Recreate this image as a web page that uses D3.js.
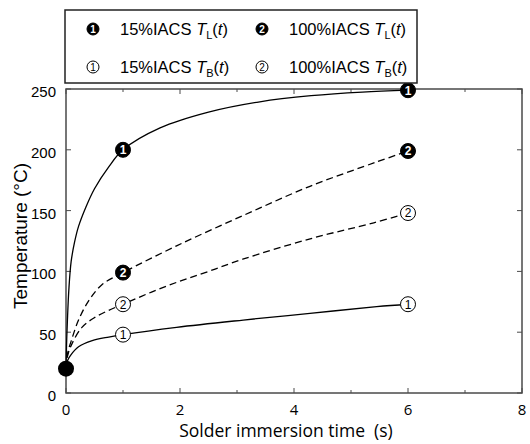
<!DOCTYPE html>
<html><head><meta charset="utf-8">
<script src="https://cdn.jsdelivr.net/npm/d3@7"></script>
<style>
html,body{margin:0;padding:0;background:#fff;}
svg{display:block;}
text{white-space:pre;}
</style></head>
<body>
<svg id="chart" width="530" height="444"></svg>
<script>
// ---- data ----
const xTicks = [0, 2, 4, 6, 8];
const xMinorTicks = [1, 3, 5, 7];
const yTicks = [0, 50, 100, 150, 200, 250];

// curve samples [time (s), temperature (°C)]
const tL15 = [[0,20],[0.01,40],[0.025,60],[0.05,85],[0.09,108],[0.15,124],[0.22,137],[0.35,153],[0.5,168],[0.75,186],[1,200],[1.65,218],[2.5,231],[3.4,239.5],[4.3,244.5],[5.2,247.5],[6,249]];
const tL100 = [[0,20],[0.03,33],[0.1,44],[0.22,60],[0.4,76],[0.63,89],[1,99],[1.94,121],[3.11,146],[4.28,170],[5.45,190],[6,199]];
const tB100 = [[0,20],[0.03,31],[0.1,40],[0.28,54],[0.5,62],[0.75,68],[1,73],[1.5,83],[2,92],[2.5,100],[3.1,110],[4.3,127],[5.4,140],[6,148]];
const tB15 = [[0,20],[0.03,27],[0.08,31],[0.22,38],[0.46,43],[0.75,46],[1,48],[1.94,54],[3.11,60],[4.28,65.5],[5.45,71],[6,73]];

// marker points
const markTL15 = [[1,200],[6,249]];
const markTL100 = [[1,99],[6,199]];
const markTB100 = [[1,73],[6,148]];
const markTB15 = [[1,48],[6,73]];
const startPoint = [[0,20]];

const legendItems = [
  {label:"15%IACS", sym:"T", sub:"L", num:"1", filled:true},
  {label:"100%IACS", sym:"T", sub:"L", num:"2", filled:true},
  {label:"15%IACS", sym:"T", sub:"B", num:"1", filled:false},
  {label:"100%IACS", sym:"T", sub:"B", num:"2", filled:false}
];

// ---- drawing ----
const svg = d3.select("#chart");
const x = d3.scaleLinear().domain([0, 8]).range([66, 522]);
const y = d3.scaleLinear().domain([0, 250]).range([393, 89]);
const frameColor = "#4a4a4a";

const plot = svg.append("g");

// frame
plot.append("rect").attr("x", x(0)).attr("y", y(250))
  .attr("width", x(8) - x(0)).attr("height", y(0) - y(250))
  .attr("fill", "none").attr("stroke", frameColor).attr("stroke-width", 1.5);

// ticks (inward)
yTicks.forEach(v => {
  plot.append("line").attr("x1", x(0)).attr("x2", x(0) + 5).attr("y1", y(v)).attr("y2", y(v))
    .attr("stroke", frameColor).attr("stroke-width", 1);
  plot.append("line").attr("x1", x(8)).attr("x2", x(8) - 5).attr("y1", y(v)).attr("y2", y(v))
    .attr("stroke", frameColor).attr("stroke-width", 1);
});
xTicks.concat(xMinorTicks).forEach(v => {
  const len = xTicks.includes(v) ? 5 : 3;
  plot.append("line").attr("x1", x(v)).attr("x2", x(v)).attr("y1", y(0)).attr("y2", y(0) - len)
    .attr("stroke", frameColor).attr("stroke-width", 1);
  plot.append("line").attr("x1", x(v)).attr("x2", x(v)).attr("y1", y(250)).attr("y2", y(250) + len)
    .attr("stroke", frameColor).attr("stroke-width", 1);
});

// tick labels
svg.append("g").selectAll("text").data(yTicks).join("text")
  .attr("x", 56).attr("y", d => y(d) + 8)
  .attr("text-anchor", "end")
  .attr("font-family", "Liberation Sans, Arial, sans-serif").attr("font-size", 15)
  .attr("fill", "#000").text(d => d);
svg.append("g").selectAll("text").data(xTicks).join("text")
  .attr("x", d => x(d)).attr("y", 415)
  .attr("text-anchor", "middle")
  .attr("font-family", "Open Sans, sans-serif").attr("font-size", 15)
  .attr("fill", "#000").text(d => d);

// axis titles
svg.append("text").attr("x", 286).attr("y", 437).attr("text-anchor", "middle")
  .attr("font-family", "Open Sans, sans-serif").attr("font-size", 17.5).attr("fill", "#000")
  .text("Solder immersion time  (s)");
svg.append("text").attr("transform", "translate(27,236) rotate(-90)").attr("text-anchor", "middle")
  .attr("font-family", "Liberation Sans, Arial, sans-serif").attr("font-size", 19).attr("fill", "#000")
  .text("Temperature (°C)");

// curves
const line = d3.line().x(d => x(d[0])).y(d => y(d[1])).curve(d3.curveCatmullRom.alpha(0.5));
const curves = [
  {data: tL15, dash: null},
  {data: tL100, dash: "7,4"},
  {data: tB100, dash: "7,4"},
  {data: tB15, dash: null}
];
curves.forEach(c => {
  plot.append("path").attr("d", line(c.data)).attr("fill", "none")
    .attr("stroke", "#000").attr("stroke-width", 1.3)
    .attr("stroke-dasharray", c.dash);
});

// markers
function marker(g, cx, cy, r, num, filled, fs) {
  g.append("circle").attr("cx", cx).attr("cy", cy).attr("r", r)
    .attr("fill", filled ? "#000" : "#fff").attr("stroke", "#000").attr("stroke-width", 1);
  g.append("text").attr("x", cx).attr("y", cy + fs * 0.36).attr("text-anchor", "middle")
    .attr("font-family", "Liberation Sans, Arial, sans-serif").attr("font-size", fs)
    .attr("font-weight", filled ? "bold" : "normal")
    .attr("fill", filled ? "#fff" : "#000").text(num);
}
const mg = svg.append("g");
[[markTL15, "1", true], [markTL100, "2", true], [markTB100, "2", false], [markTB15, "1", false]]
  .forEach(([pts, num, filled]) => pts.forEach(p => marker(mg, x(p[0]), y(p[1]), 7.5, num, filled, 12)));
startPoint.forEach(p => mg.append("circle").attr("cx", x(p[0])).attr("cy", y(p[1])).attr("r", 8).attr("fill", "#000"));

// legend
const lg = svg.append("g");
lg.append("rect").attr("x", 65).attr("y", 10).attr("width", 352).attr("height", 73)
  .attr("fill", "#fff").attr("stroke", "#222").attr("stroke-width", 1.5);
const colX = [93, 262], rowY = [29, 67];
legendItems.forEach((it, i) => {
  const cx = colX[i % 2], cy = rowY[Math.floor(i / 2)];
  marker(lg, cx, cy, 6, it.num, it.filled, 10);
  const t = lg.append("text").attr("x", cx + 27).attr("y", cy + 6)
    .attr("font-family", "Liberation Sans, Arial, sans-serif").attr("font-size", 16.5).attr("fill", "#000");
  t.append("tspan").text(it.label + " ");
  t.append("tspan").attr("font-style", "italic").text(it.sym);
  t.append("tspan").attr("font-size", 11).attr("dy", 4).text(it.sub);
  t.append("tspan").attr("dy", -4).text("(");
  t.append("tspan").attr("font-style", "italic").text("t");
  t.append("tspan").text(")");
});
</script>
</body></html>
